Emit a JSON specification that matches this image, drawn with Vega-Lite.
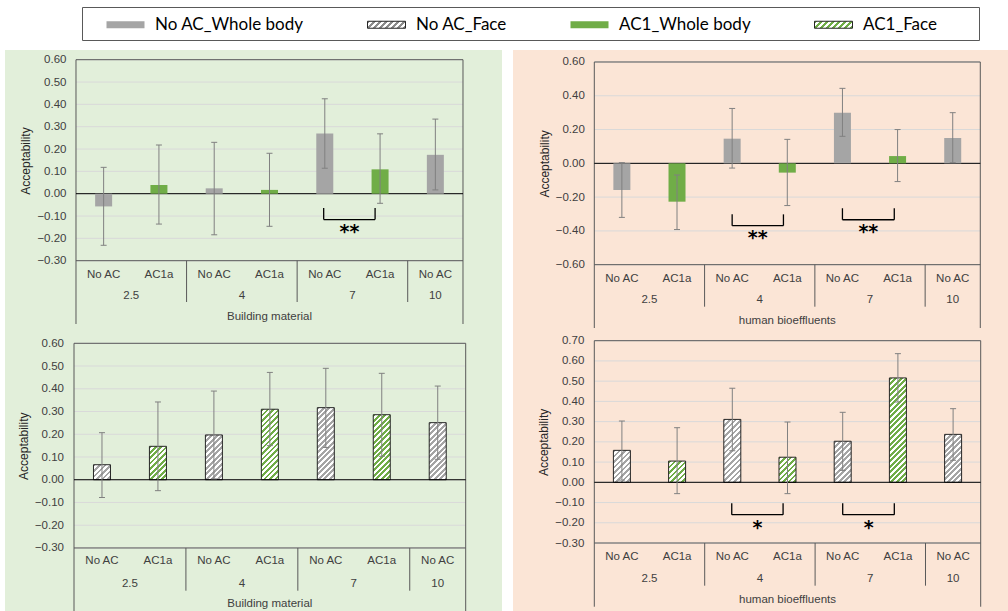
{
"$schema":"https://vega.github.io/schema/vega-lite/v6.json",
"background":"#ffffff",
"padding":{"left":5,"top":4,"right":0,"bottom":0},
"config":{"view":{"stroke":null},"font":"Liberation Sans","scale":{"continuousPadding":0}},
"params":[
{"name":"hatchGray","value":[{"offset":0,"color":"#a5a5a5"},{"offset":0.0208,"color":"#a5a5a5"},{"offset":0.0208,"color":"#ffffff"},{"offset":0.0417,"color":"#ffffff"},{"offset":0.0417,"color":"#a5a5a5"},{"offset":0.0625,"color":"#a5a5a5"},{"offset":0.0625,"color":"#ffffff"},{"offset":0.0833,"color":"#ffffff"},{"offset":0.0833,"color":"#a5a5a5"},{"offset":0.1042,"color":"#a5a5a5"},{"offset":0.1042,"color":"#ffffff"},{"offset":0.125,"color":"#ffffff"},{"offset":0.125,"color":"#a5a5a5"},{"offset":0.1458,"color":"#a5a5a5"},{"offset":0.1458,"color":"#ffffff"},{"offset":0.1667,"color":"#ffffff"},{"offset":0.1667,"color":"#a5a5a5"},{"offset":0.1875,"color":"#a5a5a5"},{"offset":0.1875,"color":"#ffffff"},{"offset":0.2083,"color":"#ffffff"},{"offset":0.2083,"color":"#a5a5a5"},{"offset":0.2292,"color":"#a5a5a5"},{"offset":0.2292,"color":"#ffffff"},{"offset":0.25,"color":"#ffffff"},{"offset":0.25,"color":"#a5a5a5"},{"offset":0.2708,"color":"#a5a5a5"},{"offset":0.2708,"color":"#ffffff"},{"offset":0.2917,"color":"#ffffff"},{"offset":0.2917,"color":"#a5a5a5"},{"offset":0.3125,"color":"#a5a5a5"},{"offset":0.3125,"color":"#ffffff"},{"offset":0.3333,"color":"#ffffff"},{"offset":0.3333,"color":"#a5a5a5"},{"offset":0.3542,"color":"#a5a5a5"},{"offset":0.3542,"color":"#ffffff"},{"offset":0.375,"color":"#ffffff"},{"offset":0.375,"color":"#a5a5a5"},{"offset":0.3958,"color":"#a5a5a5"},{"offset":0.3958,"color":"#ffffff"},{"offset":0.4167,"color":"#ffffff"},{"offset":0.4167,"color":"#a5a5a5"},{"offset":0.4375,"color":"#a5a5a5"},{"offset":0.4375,"color":"#ffffff"},{"offset":0.4583,"color":"#ffffff"},{"offset":0.4583,"color":"#a5a5a5"},{"offset":0.4792,"color":"#a5a5a5"},{"offset":0.4792,"color":"#ffffff"},{"offset":0.5,"color":"#ffffff"},{"offset":0.5,"color":"#a5a5a5"},{"offset":0.5208,"color":"#a5a5a5"},{"offset":0.5208,"color":"#ffffff"},{"offset":0.5417,"color":"#ffffff"},{"offset":0.5417,"color":"#a5a5a5"},{"offset":0.5625,"color":"#a5a5a5"},{"offset":0.5625,"color":"#ffffff"},{"offset":0.5833,"color":"#ffffff"},{"offset":0.5833,"color":"#a5a5a5"},{"offset":0.6042,"color":"#a5a5a5"},{"offset":0.6042,"color":"#ffffff"},{"offset":0.625,"color":"#ffffff"},{"offset":0.625,"color":"#a5a5a5"},{"offset":0.6458,"color":"#a5a5a5"},{"offset":0.6458,"color":"#ffffff"},{"offset":0.6667,"color":"#ffffff"},{"offset":0.6667,"color":"#a5a5a5"},{"offset":0.6875,"color":"#a5a5a5"},{"offset":0.6875,"color":"#ffffff"},{"offset":0.7083,"color":"#ffffff"},{"offset":0.7083,"color":"#a5a5a5"},{"offset":0.7292,"color":"#a5a5a5"},{"offset":0.7292,"color":"#ffffff"},{"offset":0.75,"color":"#ffffff"},{"offset":0.75,"color":"#a5a5a5"},{"offset":0.7708,"color":"#a5a5a5"},{"offset":0.7708,"color":"#ffffff"},{"offset":0.7917,"color":"#ffffff"},{"offset":0.7917,"color":"#a5a5a5"},{"offset":0.8125,"color":"#a5a5a5"},{"offset":0.8125,"color":"#ffffff"},{"offset":0.8333,"color":"#ffffff"},{"offset":0.8333,"color":"#a5a5a5"},{"offset":0.8542,"color":"#a5a5a5"},{"offset":0.8542,"color":"#ffffff"},{"offset":0.875,"color":"#ffffff"},{"offset":0.875,"color":"#a5a5a5"},{"offset":0.8958,"color":"#a5a5a5"},{"offset":0.8958,"color":"#ffffff"},{"offset":0.9167,"color":"#ffffff"},{"offset":0.9167,"color":"#a5a5a5"},{"offset":0.9375,"color":"#a5a5a5"},{"offset":0.9375,"color":"#ffffff"},{"offset":0.9583,"color":"#ffffff"},{"offset":0.9583,"color":"#a5a5a5"},{"offset":0.9792,"color":"#a5a5a5"},{"offset":0.9792,"color":"#ffffff"},{"offset":1,"color":"#ffffff"}]},
{"name":"hatchGreen","value":[{"offset":0,"color":"#70ad47"},{"offset":0.0208,"color":"#70ad47"},{"offset":0.0208,"color":"#ffffff"},{"offset":0.0417,"color":"#ffffff"},{"offset":0.0417,"color":"#70ad47"},{"offset":0.0625,"color":"#70ad47"},{"offset":0.0625,"color":"#ffffff"},{"offset":0.0833,"color":"#ffffff"},{"offset":0.0833,"color":"#70ad47"},{"offset":0.1042,"color":"#70ad47"},{"offset":0.1042,"color":"#ffffff"},{"offset":0.125,"color":"#ffffff"},{"offset":0.125,"color":"#70ad47"},{"offset":0.1458,"color":"#70ad47"},{"offset":0.1458,"color":"#ffffff"},{"offset":0.1667,"color":"#ffffff"},{"offset":0.1667,"color":"#70ad47"},{"offset":0.1875,"color":"#70ad47"},{"offset":0.1875,"color":"#ffffff"},{"offset":0.2083,"color":"#ffffff"},{"offset":0.2083,"color":"#70ad47"},{"offset":0.2292,"color":"#70ad47"},{"offset":0.2292,"color":"#ffffff"},{"offset":0.25,"color":"#ffffff"},{"offset":0.25,"color":"#70ad47"},{"offset":0.2708,"color":"#70ad47"},{"offset":0.2708,"color":"#ffffff"},{"offset":0.2917,"color":"#ffffff"},{"offset":0.2917,"color":"#70ad47"},{"offset":0.3125,"color":"#70ad47"},{"offset":0.3125,"color":"#ffffff"},{"offset":0.3333,"color":"#ffffff"},{"offset":0.3333,"color":"#70ad47"},{"offset":0.3542,"color":"#70ad47"},{"offset":0.3542,"color":"#ffffff"},{"offset":0.375,"color":"#ffffff"},{"offset":0.375,"color":"#70ad47"},{"offset":0.3958,"color":"#70ad47"},{"offset":0.3958,"color":"#ffffff"},{"offset":0.4167,"color":"#ffffff"},{"offset":0.4167,"color":"#70ad47"},{"offset":0.4375,"color":"#70ad47"},{"offset":0.4375,"color":"#ffffff"},{"offset":0.4583,"color":"#ffffff"},{"offset":0.4583,"color":"#70ad47"},{"offset":0.4792,"color":"#70ad47"},{"offset":0.4792,"color":"#ffffff"},{"offset":0.5,"color":"#ffffff"},{"offset":0.5,"color":"#70ad47"},{"offset":0.5208,"color":"#70ad47"},{"offset":0.5208,"color":"#ffffff"},{"offset":0.5417,"color":"#ffffff"},{"offset":0.5417,"color":"#70ad47"},{"offset":0.5625,"color":"#70ad47"},{"offset":0.5625,"color":"#ffffff"},{"offset":0.5833,"color":"#ffffff"},{"offset":0.5833,"color":"#70ad47"},{"offset":0.6042,"color":"#70ad47"},{"offset":0.6042,"color":"#ffffff"},{"offset":0.625,"color":"#ffffff"},{"offset":0.625,"color":"#70ad47"},{"offset":0.6458,"color":"#70ad47"},{"offset":0.6458,"color":"#ffffff"},{"offset":0.6667,"color":"#ffffff"},{"offset":0.6667,"color":"#70ad47"},{"offset":0.6875,"color":"#70ad47"},{"offset":0.6875,"color":"#ffffff"},{"offset":0.7083,"color":"#ffffff"},{"offset":0.7083,"color":"#70ad47"},{"offset":0.7292,"color":"#70ad47"},{"offset":0.7292,"color":"#ffffff"},{"offset":0.75,"color":"#ffffff"},{"offset":0.75,"color":"#70ad47"},{"offset":0.7708,"color":"#70ad47"},{"offset":0.7708,"color":"#ffffff"},{"offset":0.7917,"color":"#ffffff"},{"offset":0.7917,"color":"#70ad47"},{"offset":0.8125,"color":"#70ad47"},{"offset":0.8125,"color":"#ffffff"},{"offset":0.8333,"color":"#ffffff"},{"offset":0.8333,"color":"#70ad47"},{"offset":0.8542,"color":"#70ad47"},{"offset":0.8542,"color":"#ffffff"},{"offset":0.875,"color":"#ffffff"},{"offset":0.875,"color":"#70ad47"},{"offset":0.8958,"color":"#70ad47"},{"offset":0.8958,"color":"#ffffff"},{"offset":0.9167,"color":"#ffffff"},{"offset":0.9167,"color":"#70ad47"},{"offset":0.9375,"color":"#70ad47"},{"offset":0.9375,"color":"#ffffff"},{"offset":0.9583,"color":"#ffffff"},{"offset":0.9583,"color":"#70ad47"},{"offset":0.9792,"color":"#70ad47"},{"offset":0.9792,"color":"#ffffff"},{"offset":1,"color":"#ffffff"}]},
{"name":"legGray","value":{"gradient":"linear","x1":0,"y1":0,"x2":1.2217,"y2":0.2251,"stops":[{"offset":0,"color":"#8c8c8c"},{"offset":0.0625,"color":"#8c8c8c"},{"offset":0.0625,"color":"#ffffff"},{"offset":0.125,"color":"#ffffff"},{"offset":0.125,"color":"#8c8c8c"},{"offset":0.1875,"color":"#8c8c8c"},{"offset":0.1875,"color":"#ffffff"},{"offset":0.25,"color":"#ffffff"},{"offset":0.25,"color":"#8c8c8c"},{"offset":0.3125,"color":"#8c8c8c"},{"offset":0.3125,"color":"#ffffff"},{"offset":0.375,"color":"#ffffff"},{"offset":0.375,"color":"#8c8c8c"},{"offset":0.4375,"color":"#8c8c8c"},{"offset":0.4375,"color":"#ffffff"},{"offset":0.5,"color":"#ffffff"},{"offset":0.5,"color":"#8c8c8c"},{"offset":0.5625,"color":"#8c8c8c"},{"offset":0.5625,"color":"#ffffff"},{"offset":0.625,"color":"#ffffff"},{"offset":0.625,"color":"#8c8c8c"},{"offset":0.6875,"color":"#8c8c8c"},{"offset":0.6875,"color":"#ffffff"},{"offset":0.75,"color":"#ffffff"},{"offset":0.75,"color":"#8c8c8c"},{"offset":0.8125,"color":"#8c8c8c"},{"offset":0.8125,"color":"#ffffff"},{"offset":0.875,"color":"#ffffff"},{"offset":0.875,"color":"#8c8c8c"},{"offset":0.9375,"color":"#8c8c8c"},{"offset":0.9375,"color":"#ffffff"},{"offset":1,"color":"#ffffff"}]}},
{"name":"legGreen","value":{"gradient":"linear","x1":0,"y1":0,"x2":1.2217,"y2":0.2251,"stops":[{"offset":0,"color":"#70ad47"},{"offset":0.0625,"color":"#70ad47"},{"offset":0.0625,"color":"#ffffff"},{"offset":0.125,"color":"#ffffff"},{"offset":0.125,"color":"#70ad47"},{"offset":0.1875,"color":"#70ad47"},{"offset":0.1875,"color":"#ffffff"},{"offset":0.25,"color":"#ffffff"},{"offset":0.25,"color":"#70ad47"},{"offset":0.3125,"color":"#70ad47"},{"offset":0.3125,"color":"#ffffff"},{"offset":0.375,"color":"#ffffff"},{"offset":0.375,"color":"#70ad47"},{"offset":0.4375,"color":"#70ad47"},{"offset":0.4375,"color":"#ffffff"},{"offset":0.5,"color":"#ffffff"},{"offset":0.5,"color":"#70ad47"},{"offset":0.5625,"color":"#70ad47"},{"offset":0.5625,"color":"#ffffff"},{"offset":0.625,"color":"#ffffff"},{"offset":0.625,"color":"#70ad47"},{"offset":0.6875,"color":"#70ad47"},{"offset":0.6875,"color":"#ffffff"},{"offset":0.75,"color":"#ffffff"},{"offset":0.75,"color":"#70ad47"},{"offset":0.8125,"color":"#70ad47"},{"offset":0.8125,"color":"#ffffff"},{"offset":0.875,"color":"#ffffff"},{"offset":0.875,"color":"#70ad47"},{"offset":0.9375,"color":"#70ad47"},{"offset":0.9375,"color":"#ffffff"},{"offset":1,"color":"#ffffff"}]}}
],
"datasets":{
"bm_whole":[
{"group":"2.5","cond":"No AC","slot":1,"mean":-0.057,"lo":-0.231,"hi":0.118},
{"group":"2.5","cond":"AC1a","slot":2,"mean":0.039,"lo":-0.136,"hi":0.218},
{"group":"4","cond":"No AC","slot":3,"mean":0.024,"lo":-0.184,"hi":0.230},
{"group":"4","cond":"AC1a","slot":4,"mean":0.017,"lo":-0.146,"hi":0.181},
{"group":"7","cond":"No AC","slot":5,"mean":0.269,"lo":0.114,"hi":0.425},
{"group":"7","cond":"AC1a","slot":6,"mean":0.109,"lo":-0.043,"hi":0.268},
{"group":"10","cond":"No AC","slot":7,"mean":0.174,"lo":0.017,"hi":0.334}],
"hb_whole":[
{"group":"2.5","cond":"No AC","slot":1,"mean":-0.158,"lo":-0.320,"hi":0.004},
{"group":"2.5","cond":"AC1a","slot":2,"mean":-0.227,"lo":-0.392,"hi":-0.069},
{"group":"4","cond":"No AC","slot":3,"mean":0.146,"lo":-0.028,"hi":0.325},
{"group":"4","cond":"AC1a","slot":4,"mean":-0.055,"lo":-0.250,"hi":0.142},
{"group":"7","cond":"No AC","slot":5,"mean":0.300,"lo":0.160,"hi":0.444},
{"group":"7","cond":"AC1a","slot":6,"mean":0.043,"lo":-0.108,"hi":0.200},
{"group":"10","cond":"No AC","slot":7,"mean":0.150,"lo":0.004,"hi":0.300}],
"bm_face":[
{"group":"2.5","cond":"No AC","slot":1,"mean":0.066,"lo":-0.078,"hi":0.207},
{"group":"2.5","cond":"AC1a","slot":2,"mean":0.147,"lo":-0.048,"hi":0.342},
{"group":"4","cond":"No AC","slot":3,"mean":0.197,"lo":0.004,"hi":0.390},
{"group":"4","cond":"AC1a","slot":4,"mean":0.310,"lo":0.150,"hi":0.472},
{"group":"7","cond":"No AC","slot":5,"mean":0.317,"lo":0.142,"hi":0.490},
{"group":"7","cond":"AC1a","slot":6,"mean":0.286,"lo":0.103,"hi":0.468},
{"group":"10","cond":"No AC","slot":7,"mean":0.251,"lo":0.090,"hi":0.412}],
"hb_face":[
{"group":"2.5","cond":"No AC","slot":1,"mean":0.158,"lo":0.011,"hi":0.303},
{"group":"2.5","cond":"AC1a","slot":2,"mean":0.105,"lo":-0.056,"hi":0.270},
{"group":"4","cond":"No AC","slot":3,"mean":0.311,"lo":0.156,"hi":0.465},
{"group":"4","cond":"AC1a","slot":4,"mean":0.124,"lo":-0.056,"hi":0.298},
{"group":"7","cond":"No AC","slot":5,"mean":0.203,"lo":0.059,"hi":0.346},
{"group":"7","cond":"AC1a","slot":6,"mean":0.516,"lo":0.397,"hi":0.636},
{"group":"10","cond":"No AC","slot":7,"mean":0.237,"lo":0.109,"hi":0.364}],
"br_bm_whole":[{"bx":4.98,"bx2":5.91,"bxm":5.445,"by1":-0.064,"by2":-0.116,"by3":-0.163,"sig":"**"}],
"br_hb_whole":[{"bx":3.0,"bx2":3.93,"bxm":3.465,"by1":-0.302,"by2":-0.369,"by3":-0.432,"sig":"**"},{"bx":5.0,"bx2":5.94,"bxm":5.47,"by1":-0.266,"by2":-0.334,"by3":-0.395,"sig":"**"}],
"br_hb_face":[{"bx":2.99,"bx2":3.92,"bxm":3.455,"by1":-0.104,"by2":-0.16,"by3":-0.2145,"sig":"*"},{"bx":5.0,"bx2":5.935,"bxm":5.47,"by1":-0.104,"by2":-0.16,"by3":-0.2145,"sig":"*"}]
},
"spacing":9,
"resolve":{"scale":{"fill":"independent"},"legend":{"fill":"independent"}},
"vconcat":[
{"hconcat":[
 {"width":76,"height":33,"view":{"stroke":null},"data":{"values":[{"t":""}]},"mark":{"type":"text"},"encoding":{"text":{"field":"t","type":"nominal"}}},
 {"width":897,"height":33,"view":{"stroke":"#595959","strokeWidth":1,"fill":"#ffffff"},
  "data":{"values":[{"series":"No AC_Whole body"},{"series":"No AC_Face"},{"series":"AC1_Whole body"},{"series":"AC1_Face"}]},
  "mark":{"type":"square","size":0,"opacity":1},
  "encoding":{"fill":{"field":"series","type":"nominal","sort":null,
   "scale":{"domain":["No AC_Whole body","No AC_Face","AC1_Whole body","AC1_Face"],
    "range":["#a5a5a5",{"expr":"legGray"},"#70ad47",{"expr":"legGreen"}]},
   "legend":{"orient":"none","legendX":24,"legendY":-2,"direction":"horizontal","title":null,"symbolType":"M-1,-0.184H1V0.184H-1Z","symbolSize":1444,"symbolStrokeWidth":1,"symbolOpacity":1,"labelFont":"Lato","labelFontSize":17,"labelColor":"#000000","labelOffset":10,"labelLimit":400,"columnPadding":61,"padding":0,
     "encode":{"symbols":{"update":{"stroke":{"signal":"indexof(datum.value, 'Face') >= 0 ? '#262626' : 'transparent'"}}}}}}}}
],"spacing":0,"resolve":{"scale":{"fill":"independent"},"legend":{"fill":"independent"}}},
{"hconcat":[
 {"vconcat":[
  {"width":497,"height":282,"view":{"fill":"#e2efda","stroke":null},
   "layer":[
    {"data":{"values":[{"v":-0.3},{"v":-0.2},{"v":-0.1},{"v":0},{"v":0.1},{"v":0.2},{"v":0.3},{"v":0.4},{"v":0.5},{"v":0.6}]},
     "mark":{"type":"rule","color":"#d9d9d9","strokeWidth":1},
     "encoding":{
      "y":{"field":"v","type":"quantitative","scale":{"domain":[-0.6193,0.6434],"nice":false,"zero":false,"padding":0},
       "axis":{"values":[-0.3,-0.2,-0.1,0,0.1,0.2,0.3,0.4,0.5,0.6],"tickCount":30,"format":".2f","offset":-71,"domain":false,"ticks":false,"tickSize":0,"grid":false,"labelOverlap":false,"labelPadding":10,"labelFont":"Liberation Sans","labelFontSize":11.5,"labelColor":"#404040","title":"Acceptability","titleFont":"Liberation Sans","titleFontSize":12,"titleFontWeight":"normal","titleColor":"#262626","titlePadding":4,"titleY":110.5}},
      "x":{"datum":0.5,"type":"quantitative","scale":{"domain":[-0.7842,8.2055],"nice":false,"zero":false,"padding":0},"axis":null},
      "x2":{"datum":7.5}}},
    {"data":{"values":[{"x":0.5,"x2":7.5,"y":0.6,"y2":0.6},{"x":0.5,"x2":7.5,"y":-0.3,"y2":-0.3},{"x":0.5,"x2":0.5,"y":0.6,"y2":-0.5835},{"x":7.5,"x2":7.5,"y":0.6,"y2":-0.5835},{"x":2.5,"x2":2.5,"y":-0.3,"y2":-0.485},{"x":4.5,"x2":4.5,"y":-0.3,"y2":-0.485},{"x":6.5,"x2":6.5,"y":-0.3,"y2":-0.485}]},
     "mark":{"type":"rule","color":"#595959","strokeWidth":1},
     "encoding":{"x":{"field":"x","type":"quantitative","axis":null},"x2":{"field":"x2"},"y":{"field":"y","type":"quantitative"},"y2":{"field":"y2"}}},
    {"data":{"values":[{"v":0}]},"mark":{"type":"rule","color":"#000000","strokeWidth":1},
     "encoding":{"y":{"field":"v","type":"quantitative"},"x":{"datum":0.5,"type":"quantitative","axis":null},"x2":{"datum":7.5}}},
    {"data":{"name":"bm_whole"},"mark":{"type":"bar","width":17},
     "encoding":{"x":{"field":"slot","type":"quantitative","axis":null},"y":{"field":"mean","type":"quantitative"},"y2":{"datum":0},
      "fill":{"condition":{"test":"datum.cond == 'No AC'","value":"#a5a5a5"},"value":"#70ad47"}}},
    {"data":{"name":"bm_whole"},"mark":{"type":"rule","color":"#808080","strokeWidth":1},
     "encoding":{"x":{"field":"slot","type":"quantitative","axis":null},"y":{"field":"lo","type":"quantitative"},"y2":{"field":"hi"}}},
    {"data":{"name":"bm_whole"},"mark":{"type":"tick","orient":"horizontal","size":6,"thickness":1,"color":"#808080","opacity":1},
     "encoding":{"x":{"field":"slot","type":"quantitative","axis":null},"y":{"field":"lo","type":"quantitative"}}},
    {"data":{"name":"bm_whole"},"mark":{"type":"tick","orient":"horizontal","size":6,"thickness":1,"color":"#808080","opacity":1},
     "encoding":{"x":{"field":"slot","type":"quantitative","axis":null},"y":{"field":"hi","type":"quantitative"}}},
    {"data":{"name":"bm_whole"},"mark":{"type":"text","font":"Liberation Sans","fontSize":11.5,"color":"#404040","baseline":"middle","align":"center","dy":14},
     "encoding":{"x":{"field":"slot","type":"quantitative","axis":null},"y":{"datum":-0.3,"type":"quantitative"},"text":{"field":"cond"}}},
    {"data":{"name":"bm_whole"},"transform":[{"aggregate":[{"op":"mean","field":"slot","as":"xc"}],"groupby":["group"]}],
     "mark":{"type":"text","font":"Liberation Sans","fontSize":11.5,"color":"#404040","baseline":"middle","align":"center","dy":35},
     "encoding":{"x":{"field":"xc","type":"quantitative","axis":null},"y":{"datum":-0.3,"type":"quantitative"},"text":{"field":"group"}}},
    {"data":{"values":[{"t":"Building material"}]},
     "mark":{"type":"text","font":"Liberation Sans","fontSize":11.5,"color":"#404040","baseline":"middle","align":"center","dy":56},
     "encoding":{"x":{"datum":4,"type":"quantitative","axis":null},"y":{"datum":-0.3,"type":"quantitative"},"text":{"field":"t"}}},
    {"data":{"name":"br_bm_whole"},"mark":{"type":"rule","color":"#000000","strokeWidth":1.3},
     "encoding":{"x":{"field":"bx","type":"quantitative","axis":null},"y":{"field":"by1","type":"quantitative"},"y2":{"field":"by2"}}},
    {"data":{"name":"br_bm_whole"},"mark":{"type":"rule","color":"#000000","strokeWidth":1.3},
     "encoding":{"x":{"field":"bx2","type":"quantitative","axis":null},"y":{"field":"by1","type":"quantitative"},"y2":{"field":"by2"}}},
    {"data":{"name":"br_bm_whole"},"mark":{"type":"rule","color":"#000000","strokeWidth":1.3},
     "encoding":{"x":{"field":"bx","type":"quantitative","axis":null},"x2":{"field":"bx2"},"y":{"field":"by2","type":"quantitative"}}},
    {"data":{"name":"br_bm_whole"},"mark":{"type":"text","font":"DejaVu Sans","fontSize":19,"fontWeight":"bold","color":"#000000","baseline":"middle","align":"center","dy":2},
     "encoding":{"x":{"field":"bxm","type":"quantitative","axis":null},"y":{"field":"by3","type":"quantitative"},"text":{"field":"sig"}}}
   ]},
  {"width":497,"height":283,"view":{"fill":"#e2efda","stroke":null},
   "layer":[
    {"data":{"values":[{"v":-0.3},{"v":-0.2},{"v":-0.1},{"v":0},{"v":0.1},{"v":0.2},{"v":0.3},{"v":0.4},{"v":0.5},{"v":0.6}]},
     "mark":{"type":"rule","color":"#d9d9d9","strokeWidth":1},
     "encoding":{
      "y":{"field":"v","type":"quantitative","scale":{"domain":[-0.5948,0.6497],"nice":false,"zero":false,"padding":0},
       "axis":{"values":[-0.3,-0.2,-0.1,0,0.1,0.2,0.3,0.4,0.5,0.6],"tickCount":30,"format":".2f","offset":-69,"domain":false,"ticks":false,"tickSize":0,"grid":false,"labelOverlap":false,"labelPadding":10.5,"labelFont":"Liberation Sans","labelFontSize":11.5,"labelColor":"#404040","title":"Acceptability","titleFont":"Liberation Sans","titleFontSize":12,"titleFontWeight":"normal","titleColor":"#262626","titlePadding":4,"titleY":113.7}},
      "x":{"datum":0.5,"type":"quantitative","scale":{"domain":[-0.7331,8.1487],"nice":false,"zero":false,"padding":0},"axis":null},
      "x2":{"datum":7.5}}},
    {"data":{"values":[{"x":0.5,"x2":7.5,"y":0.6,"y2":0.6},{"x":0.5,"x2":7.5,"y":-0.3,"y2":-0.3},{"x":0.5,"x2":0.5,"y":0.6,"y2":-0.59},{"x":7.5,"x2":7.5,"y":0.6,"y2":-0.59},{"x":2.5,"x2":2.5,"y":-0.3,"y2":-0.488},{"x":4.5,"x2":4.5,"y":-0.3,"y2":-0.488},{"x":6.5,"x2":6.5,"y":-0.3,"y2":-0.488}]},
     "mark":{"type":"rule","color":"#595959","strokeWidth":1},
     "encoding":{"x":{"field":"x","type":"quantitative","axis":null},"x2":{"field":"x2"},"y":{"field":"y","type":"quantitative"},"y2":{"field":"y2"}}},
    {"data":{"name":"bm_face"},"mark":{"type":"bar","width":17,"stroke":"#262626","strokeWidth":1,
      "fill":{"expr":"{gradient: 'linear', x1: 0, y1: 0, x2: 2244 / (289 + pow(datum.mean * 227.4, 2)), y2: 132 * datum.mean * 227.4 / (289 + pow(datum.mean * 227.4, 2)), stops: datum.cond == 'No AC' ? hatchGray : hatchGreen}"}},
     "encoding":{"x":{"field":"slot","type":"quantitative","axis":null},"y":{"field":"mean","type":"quantitative"},"y2":{"datum":0}}},
    {"data":{"values":[{"v":0}]},"mark":{"type":"rule","color":"#000000","strokeWidth":1},
     "encoding":{"y":{"field":"v","type":"quantitative"},"x":{"datum":0.5,"type":"quantitative","axis":null},"x2":{"datum":7.5}}},
    {"data":{"name":"bm_face"},"mark":{"type":"rule","color":"#808080","strokeWidth":1},
     "encoding":{"x":{"field":"slot","type":"quantitative","axis":null},"y":{"field":"lo","type":"quantitative"},"y2":{"field":"hi"}}},
    {"data":{"name":"bm_face"},"mark":{"type":"tick","orient":"horizontal","size":6,"thickness":1,"color":"#808080","opacity":1},
     "encoding":{"x":{"field":"slot","type":"quantitative","axis":null},"y":{"field":"lo","type":"quantitative"}}},
    {"data":{"name":"bm_face"},"mark":{"type":"tick","orient":"horizontal","size":6,"thickness":1,"color":"#808080","opacity":1},
     "encoding":{"x":{"field":"slot","type":"quantitative","axis":null},"y":{"field":"hi","type":"quantitative"}}},
    {"data":{"name":"bm_face"},"mark":{"type":"text","font":"Liberation Sans","fontSize":11.5,"color":"#404040","baseline":"middle","align":"center","dy":13.5},
     "encoding":{"x":{"field":"slot","type":"quantitative","axis":null},"y":{"datum":-0.3,"type":"quantitative"},"text":{"field":"cond"}}},
    {"data":{"name":"bm_face"},"transform":[{"aggregate":[{"op":"mean","field":"slot","as":"xc"}],"groupby":["group"]}],
     "mark":{"type":"text","font":"Liberation Sans","fontSize":11.5,"color":"#404040","baseline":"middle","align":"center","dy":36},
     "encoding":{"x":{"field":"xc","type":"quantitative","axis":null},"y":{"datum":-0.3,"type":"quantitative"},"text":{"field":"group"}}},
    {"data":{"values":[{"t":"Building material"}]},
     "mark":{"type":"text","font":"Liberation Sans","fontSize":11.5,"color":"#404040","baseline":"middle","align":"center","dy":56.5},
     "encoding":{"x":{"datum":4,"type":"quantitative","axis":null},"y":{"datum":-0.3,"type":"quantitative"},"text":{"field":"t"}}}
   ]}
 ],"spacing":0},
 {"vconcat":[
  {"width":495,"height":282,"view":{"fill":"#fbe5d6","stroke":null},
   "layer":[
    {"data":{"values":[{"v":-0.6},{"v":-0.4},{"v":-0.2},{"v":0},{"v":0.2},{"v":0.4},{"v":0.6}]},
     "mark":{"type":"rule","color":"#d9d9d9","strokeWidth":1},
     "encoding":{
      "y":{"field":"v","type":"quantitative","scale":{"domain":[-0.9986,0.6710],"nice":false,"zero":false,"padding":0},
       "axis":{"values":[-0.6,-0.4,-0.2,0,0.2,0.4,0.6],"tickCount":30,"format":".2f","offset":-81.3,"domain":false,"ticks":false,"tickSize":0,"grid":false,"labelOverlap":false,"labelPadding":10,"labelFont":"Liberation Sans","labelFontSize":11.5,"labelColor":"#404040","title":"Acceptability","titleFont":"Liberation Sans","titleFontSize":12,"titleFontWeight":"normal","titleColor":"#262626","titlePadding":4,"titleY":113.4}},
      "x":{"datum":0.5,"type":"quantitative","scale":{"domain":[-0.9743,8.0024],"nice":false,"zero":false,"padding":0},"axis":null},
      "x2":{"datum":7.5}}},
    {"data":{"values":[{"x":0.5,"x2":7.5,"y":0.6,"y2":0.6},{"x":0.5,"x2":7.5,"y":-0.6,"y2":-0.6},{"x":0.5,"x2":0.5,"y":0.6,"y2":-0.975},{"x":7.5,"x2":7.5,"y":0.6,"y2":-0.975},{"x":2.5,"x2":2.5,"y":-0.6,"y2":-0.8488},{"x":4.5,"x2":4.5,"y":-0.6,"y2":-0.8488},{"x":6.5,"x2":6.5,"y":-0.6,"y2":-0.8488}]},
     "mark":{"type":"rule","color":"#595959","strokeWidth":1},
     "encoding":{"x":{"field":"x","type":"quantitative","axis":null},"x2":{"field":"x2"},"y":{"field":"y","type":"quantitative"},"y2":{"field":"y2"}}},
    {"data":{"values":[{"v":0}]},"mark":{"type":"rule","color":"#000000","strokeWidth":1},
     "encoding":{"y":{"field":"v","type":"quantitative"},"x":{"datum":0.5,"type":"quantitative","axis":null},"x2":{"datum":7.5}}},
    {"data":{"name":"hb_whole"},"mark":{"type":"bar","width":17},
     "encoding":{"x":{"field":"slot","type":"quantitative","axis":null},"y":{"field":"mean","type":"quantitative"},"y2":{"datum":0},
      "fill":{"condition":{"test":"datum.cond == 'No AC'","value":"#a5a5a5"},"value":"#70ad47"}}},
    {"data":{"name":"hb_whole"},"mark":{"type":"rule","color":"#808080","strokeWidth":1},
     "encoding":{"x":{"field":"slot","type":"quantitative","axis":null},"y":{"field":"lo","type":"quantitative"},"y2":{"field":"hi"}}},
    {"data":{"name":"hb_whole"},"mark":{"type":"tick","orient":"horizontal","size":6,"thickness":1,"color":"#808080","opacity":1},
     "encoding":{"x":{"field":"slot","type":"quantitative","axis":null},"y":{"field":"lo","type":"quantitative"}}},
    {"data":{"name":"hb_whole"},"mark":{"type":"tick","orient":"horizontal","size":6,"thickness":1,"color":"#808080","opacity":1},
     "encoding":{"x":{"field":"slot","type":"quantitative","axis":null},"y":{"field":"hi","type":"quantitative"}}},
    {"data":{"name":"hb_whole"},"mark":{"type":"text","font":"Liberation Sans","fontSize":11.5,"color":"#404040","baseline":"middle","align":"center","dy":14.3},
     "encoding":{"x":{"field":"slot","type":"quantitative","axis":null},"y":{"datum":-0.6,"type":"quantitative"},"text":{"field":"cond"}}},
    {"data":{"name":"hb_whole"},"transform":[{"aggregate":[{"op":"mean","field":"slot","as":"xc"}],"groupby":["group"]}],
     "mark":{"type":"text","font":"Liberation Sans","fontSize":11.5,"color":"#404040","baseline":"middle","align":"center","dy":35.3},
     "encoding":{"x":{"field":"xc","type":"quantitative","axis":null},"y":{"datum":-0.6,"type":"quantitative"},"text":{"field":"group"}}},
    {"data":{"values":[{"t":"human bioeffluents"}]},
     "mark":{"type":"text","font":"Liberation Sans","fontSize":11.5,"color":"#404040","baseline":"middle","align":"center","dy":56},
     "encoding":{"x":{"datum":4,"type":"quantitative","axis":null},"y":{"datum":-0.6,"type":"quantitative"},"text":{"field":"t"}}},
    {"data":{"name":"br_hb_whole"},"mark":{"type":"rule","color":"#000000","strokeWidth":1.3},
     "encoding":{"x":{"field":"bx","type":"quantitative","axis":null},"y":{"field":"by1","type":"quantitative"},"y2":{"field":"by2"}}},
    {"data":{"name":"br_hb_whole"},"mark":{"type":"rule","color":"#000000","strokeWidth":1.3},
     "encoding":{"x":{"field":"bx2","type":"quantitative","axis":null},"y":{"field":"by1","type":"quantitative"},"y2":{"field":"by2"}}},
    {"data":{"name":"br_hb_whole"},"mark":{"type":"rule","color":"#000000","strokeWidth":1.3},
     "encoding":{"x":{"field":"bx","type":"quantitative","axis":null},"x2":{"field":"bx2"},"y":{"field":"by2","type":"quantitative"}}},
    {"data":{"name":"br_hb_whole"},"mark":{"type":"text","font":"DejaVu Sans","fontSize":19,"fontWeight":"bold","color":"#000000","baseline":"middle","align":"center","dy":2},
     "encoding":{"x":{"field":"bxm","type":"quantitative","axis":null},"y":{"field":"by3","type":"quantitative"},"text":{"field":"sig"}}}
   ]},
  {"width":495,"height":283,"view":{"fill":"#fbe5d6","stroke":null},
   "layer":[
    {"data":{"values":[{"v":-0.3},{"v":-0.2},{"v":-0.1},{"v":0},{"v":0.1},{"v":0.2},{"v":0.3},{"v":0.4},{"v":0.5},{"v":0.6},{"v":0.7}]},
     "mark":{"type":"rule","color":"#d9d9d9","strokeWidth":1},
     "encoding":{
      "y":{"field":"v","type":"quantitative","scale":{"domain":[-0.6559,0.7430],"nice":false,"zero":false,"padding":0},
       "axis":{"values":[-0.3,-0.2,-0.1,0,0.1,0.2,0.3,0.4,0.5,0.6,0.7],"tickCount":30,"format":".2f","offset":-81.3,"domain":false,"ticks":false,"tickSize":0,"grid":false,"labelOverlap":false,"labelPadding":10.5,"labelFont":"Liberation Sans","labelFontSize":11.5,"labelColor":"#404040","title":"Acceptability","titleFont":"Liberation Sans","titleFontSize":12,"titleFontWeight":"normal","titleColor":"#262626","titlePadding":4,"titleY":109.9}},
      "x":{"datum":0.5,"type":"quantitative","scale":{"domain":[-0.9728,7.9946],"nice":false,"zero":false,"padding":0},"axis":null},
      "x2":{"datum":7.5}}},
    {"data":{"values":[{"x":0.5,"x2":7.5,"y":0.7,"y2":0.7},{"x":0.5,"x2":7.5,"y":-0.3,"y2":-0.3},{"x":0.5,"x2":0.5,"y":0.7,"y2":-0.615},{"x":7.5,"x2":7.5,"y":0.7,"y2":-0.615},{"x":2.5,"x2":2.5,"y":-0.3,"y2":-0.511},{"x":4.5,"x2":4.5,"y":-0.3,"y2":-0.511},{"x":6.5,"x2":6.5,"y":-0.3,"y2":-0.511}]},
     "mark":{"type":"rule","color":"#595959","strokeWidth":1},
     "encoding":{"x":{"field":"x","type":"quantitative","axis":null},"x2":{"field":"x2"},"y":{"field":"y","type":"quantitative"},"y2":{"field":"y2"}}},
    {"data":{"name":"hb_face"},"mark":{"type":"bar","width":17,"stroke":"#262626","strokeWidth":1,
      "fill":{"expr":"{gradient: 'linear', x1: 0, y1: 0, x2: 2244 / (289 + pow(datum.mean * 202.3, 2)), y2: 132 * datum.mean * 202.3 / (289 + pow(datum.mean * 202.3, 2)), stops: datum.cond == 'No AC' ? hatchGray : hatchGreen}"}},
     "encoding":{"x":{"field":"slot","type":"quantitative","axis":null},"y":{"field":"mean","type":"quantitative"},"y2":{"datum":0}}},
    {"data":{"values":[{"v":0}]},"mark":{"type":"rule","color":"#000000","strokeWidth":1},
     "encoding":{"y":{"field":"v","type":"quantitative"},"x":{"datum":0.5,"type":"quantitative","axis":null},"x2":{"datum":7.5}}},
    {"data":{"name":"hb_face"},"mark":{"type":"rule","color":"#808080","strokeWidth":1},
     "encoding":{"x":{"field":"slot","type":"quantitative","axis":null},"y":{"field":"lo","type":"quantitative"},"y2":{"field":"hi"}}},
    {"data":{"name":"hb_face"},"mark":{"type":"tick","orient":"horizontal","size":6,"thickness":1,"color":"#808080","opacity":1},
     "encoding":{"x":{"field":"slot","type":"quantitative","axis":null},"y":{"field":"lo","type":"quantitative"}}},
    {"data":{"name":"hb_face"},"mark":{"type":"tick","orient":"horizontal","size":6,"thickness":1,"color":"#808080","opacity":1},
     "encoding":{"x":{"field":"slot","type":"quantitative","axis":null},"y":{"field":"hi","type":"quantitative"}}},
    {"data":{"name":"hb_face"},"mark":{"type":"text","font":"Liberation Sans","fontSize":11.5,"color":"#404040","baseline":"middle","align":"center","dy":14.3},
     "encoding":{"x":{"field":"slot","type":"quantitative","axis":null},"y":{"datum":-0.3,"type":"quantitative"},"text":{"field":"cond"}}},
    {"data":{"name":"hb_face"},"transform":[{"aggregate":[{"op":"mean","field":"slot","as":"xc"}],"groupby":["group"]}],
     "mark":{"type":"text","font":"Liberation Sans","fontSize":11.5,"color":"#404040","baseline":"middle","align":"center","dy":36},
     "encoding":{"x":{"field":"xc","type":"quantitative","axis":null},"y":{"datum":-0.3,"type":"quantitative"},"text":{"field":"group"}}},
    {"data":{"values":[{"t":"human bioeffluents"}]},
     "mark":{"type":"text","font":"Liberation Sans","fontSize":11.5,"color":"#404040","baseline":"middle","align":"center","dy":56.7},
     "encoding":{"x":{"datum":4,"type":"quantitative","axis":null},"y":{"datum":-0.3,"type":"quantitative"},"text":{"field":"t"}}},
    {"data":{"name":"br_hb_face"},"mark":{"type":"rule","color":"#000000","strokeWidth":1.3},
     "encoding":{"x":{"field":"bx","type":"quantitative","axis":null},"y":{"field":"by1","type":"quantitative"},"y2":{"field":"by2"}}},
    {"data":{"name":"br_hb_face"},"mark":{"type":"rule","color":"#000000","strokeWidth":1.3},
     "encoding":{"x":{"field":"bx2","type":"quantitative","axis":null},"y":{"field":"by1","type":"quantitative"},"y2":{"field":"by2"}}},
    {"data":{"name":"br_hb_face"},"mark":{"type":"rule","color":"#000000","strokeWidth":1.3},
     "encoding":{"x":{"field":"bx","type":"quantitative","axis":null},"x2":{"field":"bx2"},"y":{"field":"by2","type":"quantitative"}}},
    {"data":{"name":"br_hb_face"},"mark":{"type":"text","font":"DejaVu Sans","fontSize":19,"fontWeight":"bold","color":"#000000","baseline":"middle","align":"center","dy":2},
     "encoding":{"x":{"field":"bxm","type":"quantitative","axis":null},"y":{"field":"by3","type":"quantitative"},"text":{"field":"sig"}}}
   ]}
 ],"spacing":0}
],"spacing":11}
]
}
